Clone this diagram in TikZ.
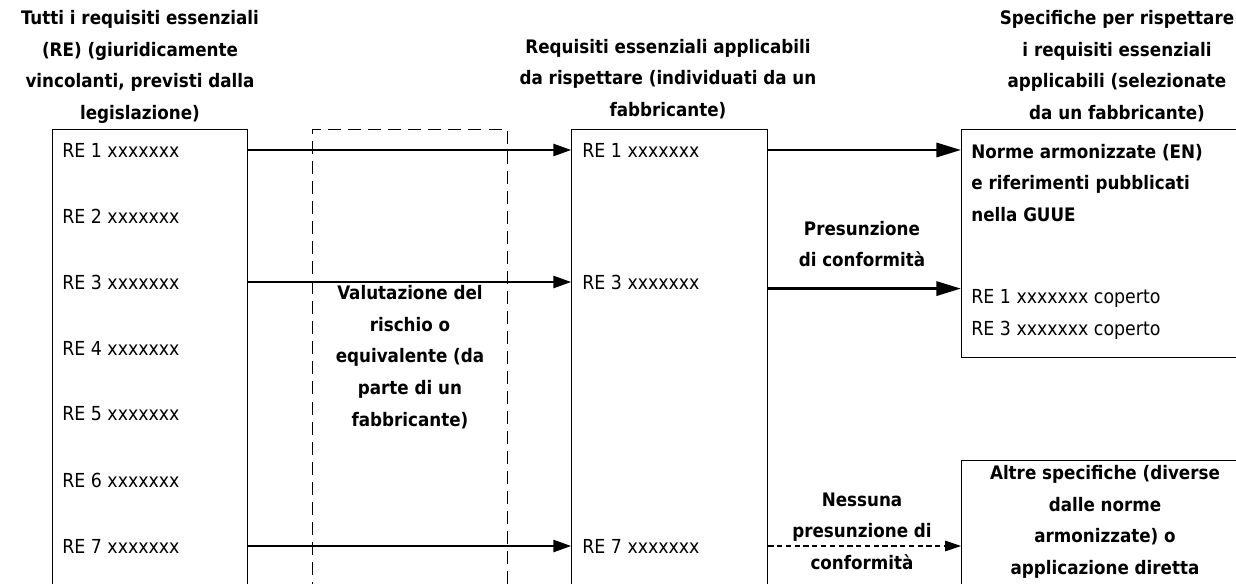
\documentclass[tikz,border=0pt]{standalone}
\usepackage{fontspec}
\setmainfont{DejaVu Sans Condensed}
\usetikzlibrary{arrows.meta,positioning}

\begin{document}
\begin{tikzpicture}[
    x=0.02cm, y=-0.02cm,
    font=\fontsize{11}{18}\selectfont,
    colbox/.style={draw, line width=0.75pt, rectangle, anchor=north west, inner sep=0pt},
    title/.style={align=center, inner sep=0pt, font=\fontsize{10.6}{18}\selectfont\bfseries},
    retext/.style={anchor=west, inner sep=0pt},
    arrow/.style={-{Triangle[length=10pt,width=7pt]}, line width=0.75pt},
    thickarrow/.style={-{Triangle[length=14pt,width=8pt]}, line width=1.7pt},
    dasharrow/.style={-{Triangle[length=9pt,width=6pt]}, line width=0.6pt, dash pattern=on 3pt off 2pt}
]
    \clip (0,0) rectangle (1236,584);

    % Columns
    \node [colbox, minimum width=3.9cm, minimum height=9.6cm] (allbox) at (52,129) {};
    \node [colbox, dash pattern=on 7.4pt off 4pt, minimum width=3.9cm, minimum height=9.6cm] (riskbox) at (312,129) {};
    \node [colbox, minimum width=3.92cm, minimum height=9.6cm] (midbox) at (571,129) {};
    \node [colbox, minimum width=5.9cm, minimum height=4.56cm] (normbox) at (961,129) {};
    \node [colbox, minimum width=5.9cm, minimum height=3cm] (altbox) at (961,460) {};

    % Column titles
    \node [title] (alltitle) at (140,67) {Tutti i requisiti essenziali\\(RE) (giuridicamente\\vincolanti, previsti dalla\\legislazione)};
    \node [title] (midtitle) at (668,79) {Requisiti essenziali applicabili\\da rispettare (individuati da un\\fabbricante)};
    \node [title] (normtitle) at (1117,66) {Specifiche per rispettare\\i requisiti essenziali\\applicabili (selezionate\\da un fabbricante)};

    % Requirements
    \foreach \i in {1,...,7}
        \node [retext] (re\i) at (62,{150+66*(\i-1)}) {RE \i\ xxxxxxx};
    \foreach \i/\y in {1/150,3/282,7/546}
        \node [retext] (mre\i) at (582,\y) {RE \i\ xxxxxxx};

    % Risk assessment
    \node [title] (risk) at (410,357) {Valutazione del\\rischio o\\equivalente (da\\parte di un\\fabbricante)};

    % Specifications
    \node [title, align=left, anchor=west] (norme) at (971,183) {Norme armonizzate (EN)\\e riferimenti pubblicati\\nella GUUE};
    \node [retext] (cov1) at (971,298) {RE 1 xxxxxxx coperto};
    \node [retext] (cov3) at (971,330) {RE 3 xxxxxxx coperto};
    \node [title] (altre) at (1105,522) {Altre specifiche (diverse\\dalle norme\\armonizzate) o\\applicazione diretta};

    % Arrow labels
    \node [title] (pres) at (862,244) {Presunzione\\di conformità};
    \node [title] (nopres) at (862,531) {Nessuna\\presunzione di\\conformità};

    % Arrows
    \foreach \i in {1,3,7}
        \draw [arrow] (re\i -| allbox.east) -- (mre\i -| midbox.west);
    \draw [thickarrow] (mre1 -| midbox.east) -- (mre1 -| normbox.west);
    \draw [thickarrow] (cov1.north -| midbox.east) -- (cov1.north -| normbox.west);
    \draw [dasharrow] (mre7 -| midbox.east) -- (mre7 -| altbox.west);

\end{tikzpicture}
\end{document}
